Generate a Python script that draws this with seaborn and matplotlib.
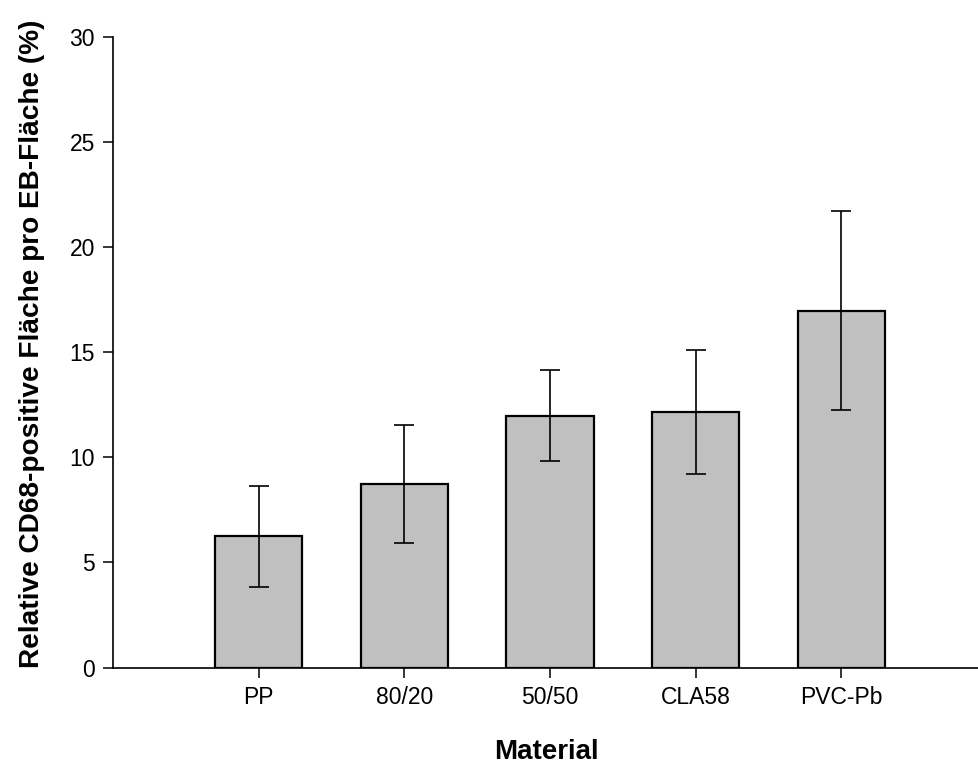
import matplotlib
matplotlib.use("Agg")
import matplotlib.pyplot as plt
import pandas as pd
import seaborn as sns

materials = ["PP", "80/20", "50/50", "CLA58", "PVC-Pb"]
mean_values = [6.24, 8.74, 11.98, 12.16, 16.97]
sd_values = [2.40, 2.81, 2.15, 2.95, 4.72]
y_ticks = [0, 5, 10, 15, 20, 25, 30]

df = pd.DataFrame({"Material": materials, "Wert": mean_values, "SD": sd_values})

sns.set_theme(style="ticks")
plt.rcParams["font.family"] = ["Liberation Sans", "DejaVu Sans"]
plt.rcParams["text.color"] = "black"
plt.rcParams["axes.labelcolor"] = "black"

fig = plt.figure(figsize=(9.79, 7.71), dpi=100)
ax = fig.add_axes([0.1154, 0.1342, 0.8846, 0.8182])

sns.barplot(
    data=df, x="Material", y="Wert", color="#c0c0c0", saturation=1,
    width=0.6, edgecolor="black", linewidth=1.6, errorbar=None, ax=ax,
)
ax.errorbar(
    range(len(materials)), df["Wert"], yerr=df["SD"], fmt="none",
    ecolor="black", elinewidth=1.2, capsize=7, capthick=1.2, zorder=5,
)

ax.set_xlim(-1.0, 4.944)
ax.set_ylim(0, 30)
ax.set_yticks(y_ticks)
ax.set_yticklabels([str(t) for t in y_ticks])
sns.despine(ax=ax)
for side in ["left", "bottom"]:
    ax.spines[side].set_linewidth(1.2)
    ax.spines[side].set_color("black")
ax.tick_params(axis="both", direction="out", length=7, width=1.1,
               colors="black", labelsize=16.5, pad=6)

ax.set_xlabel("Material", fontsize=20, fontweight="bold", labelpad=22)
ax.set_ylabel("Relative CD68-positive Fläche pro EB-Fläche (%)",
              fontsize=20.2, fontweight="bold")
ax.yaxis.set_label_coords(-0.078, 0.513)

fig.savefig("out.png", dpi=100, facecolor="white")
